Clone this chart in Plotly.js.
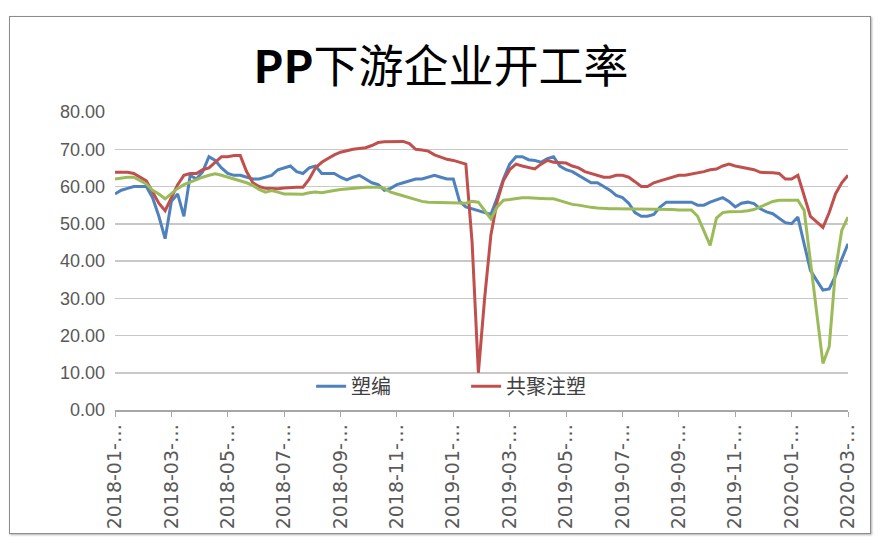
<!DOCTYPE html>
<html>
<head>
<meta charset="utf-8">
<script src="https://cdn.plot.ly/plotly-3.0.1.min.js"></script>
<style>
  html, body { margin: 0; padding: 0; background: #ffffff; }
  #wrap { position: relative; width: 882px; height: 543px; }
  #chart { width: 882px; height: 543px; }
  #frame { position: absolute; left: 9px; top: 16px; width: 860px; height: 516px;
           border: 1.5px solid #8c8c8c; box-shadow: 1px 1px 2px #b0b0b0; pointer-events: none; }
</style>
</head>
<body>
<div id="wrap">
  <div id="chart"></div>
  <div id="frame"></div>
</div>
<script>
// Tick labels (every 9th weekly category)
const tickLabels = ["2018-01-…","2018-03-…","2018-05-…","2018-07-…","2018-09-…","2018-11-…",
  "2019-01-…","2019-03-…","2019-05-…","2019-07-…","2019-09-…","2019-11-…","2020-01-…","2020-03-…"];
const tickStep = 9;

// 塑编 (weekly)
const suBian = [58,59,59.5,60,60,60,57,52,46,56,58,52,63,62,64,68,67,65,63.5,63,
  63,62.5,62,62,62.5,63,64.5,65,65.5,64,63.5,65,65.5,63.5,63.5,63.5,62.5,61.8,62.5,63,
  62,61,60.5,59,59.5,60.5,61,61.5,62,62,62.5,63,62.5,62,62,56,54.5,54,53.5,53,
  52.5,57,62,66,68,68,67.2,67,66.5,67.5,68,65.5,64.5,64,63,62,61,61,60,59,
  57.6,57,55.5,53,52,52,52.5,54.5,55.8,55.8,55.8,55.8,55.8,55,55,55.8,56.3,57,56,54.5,
  55.5,55.8,55.4,54,53.2,52.7,51.5,50.3,50,51.8,44.6,37.5,34.8,32.2,32.5,36,40.5,44.6];

// 共聚注塑 (weekly)
const gongJu = [63.8,63.8,63.8,63.5,62.5,61.5,58.5,55.5,53.5,57,60.5,63,63.5,63.5,64.5,65,66.5,68,68,68.3,
  68.3,64,61,60,59.5,59.4,59.4,59.6,59.8,59.8,59.8,62,65,66.5,67.5,68.5,69.2,69.7,70,70.2,
  70.4,71,71.8,72,72.1,72.1,72.1,71.5,70,69.8,69.5,68.5,67.8,67.3,67,66.5,66,45,10,30,
  47,56,61.6,64.5,66,65.5,65,64.7,66,67,66.5,66.5,66.3,65.5,65,64,63.5,63.2,62.5,62.5,
  63,63,62.5,61.3,60,60,61,61.5,62,62.5,63,63,63.3,63.5,64,64.5,64.7,65.5,66,65.5,
  65.2,65,64.5,63.8,63.8,63.7,63.5,62,62,63,57.5,52,50.5,49,53,58,61,63];

// third series (green, not in legend)
const third = [62,62.3,62.5,62.5,61.5,60.7,59,58,56.7,58,59.5,60.5,61.2,62,62.5,63,63.4,63,62.5,62,
  61.6,61,60.3,59.2,58.5,58.9,58.5,58,58,57.9,57.9,58.3,58.5,58.3,58.7,58.9,59.2,59.4,59.4,59.6,
  59.8,59.8,59.8,59.5,58.5,58,57.5,57.1,56.5,56,55.8,55.8,55.8,55.8,55.8,55.6,55.5,56,55.8,53.6,
  51.3,54.5,56.3,56.5,56.8,57,57,57,56.8,56.7,56.7,56.2,55.6,55.2,55,54.6,54.4,54.2,54,54,
  54,54,54,54,54,54,54,54,54,53.8,53.7,53.6,53.7,52,48,44.2,51.5,53,53.2,
  53.2,53.3,53.5,53.8,54.5,55.2,56,56.3,56.3,56.3,56.3,53.6,40,26,12.5,17,37.5,48.2,51.8];

const xIdx = suBian.map((_, i) => i);
const tickVals = tickLabels.map((_, k) => k * tickStep);

const traces = [
  {x: xIdx, y: suBian, name: "塑编", type: "scatter", mode: "lines",
   line: {color: "#4F81BD", width: 3}},
  {x: xIdx, y: gongJu, name: "共聚注塑", type: "scatter", mode: "lines",
   line: {color: "#C0504D", width: 3}},
  {x: xIdx, y: third, name: "其他", type: "scatter", mode: "lines", showlegend: false,
   line: {color: "#9BBB59", width: 3}}
];
const layout = {
  width: 882, height: 543,
  paper_bgcolor: "#ffffff", plot_bgcolor: "#ffffff",
  margin: {l: 115, r: 34, t: 112, b: 133},
  title: {text: "<b>PP</b>下游企业开工率", x: 0.5, xanchor: "center", xref: "container",
          y: 1 - 67/543, yanchor: "middle", yref: "container",
          font: {family: "Noto Sans CJK SC, sans-serif", size: 45, color: "#000000"}},
  showlegend: true,
  legend: {orientation: "h", x: 0.479, xanchor: "center", y: 0.08, yanchor: "middle",
           bgcolor: "rgba(0,0,0,0)", font: {family: "Noto Sans CJK SC, sans-serif", size: 20, color: "#404040"},
           traceorder: "normal", entrywidth: 110, entrywidthmode: "pixels"},
  xaxis: {range: [0, suBian.length - 1], tickmode: "array", tickvals: tickVals, ticktext: tickLabels,
          tickangle: -90, tickfont: {family: "DejaVu Sans, sans-serif", size: 19, color: "#595959"},
          showgrid: false, zeroline: false, showline: true, linecolor: "#a6a6a6", linewidth: 1.5,
          ticks: "outside", ticklen: 5, tickcolor: "#a6a6a6", fixedrange: true},
  yaxis: {range: [0, 80], tickmode: "linear", tick0: 0, dtick: 10, tickformat: ".2f",
          tickfont: {family: "Liberation Sans, sans-serif", size: 18, color: "#595959"},
          showgrid: true, gridcolor: "#c8c8c8", gridwidth: 1.5, zeroline: false, showline: false,
          ticks: "", ticklabelstandoff: 9, fixedrange: true}
};
Plotly.newPlot("chart", traces, layout, {displayModeBar: false, staticPlot: true});
</script>
</body>
</html>
